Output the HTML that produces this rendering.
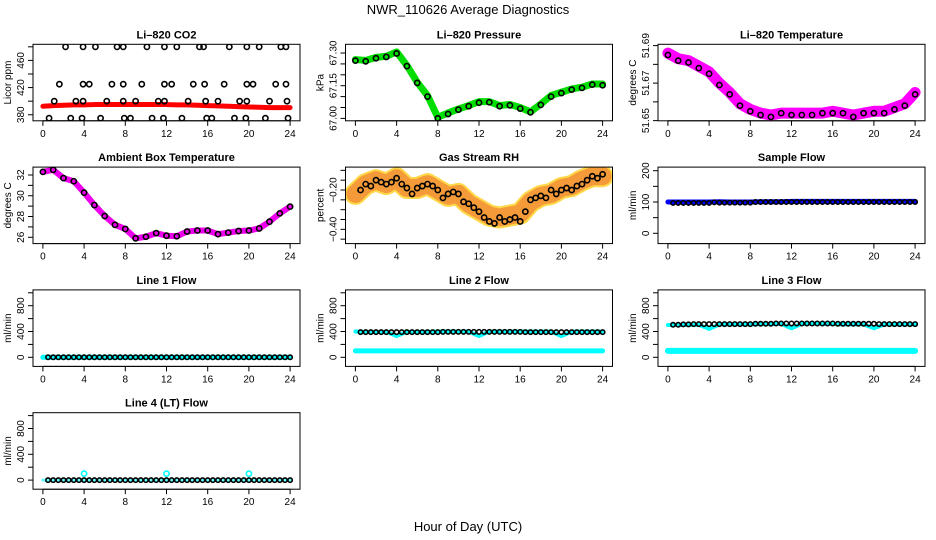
<!DOCTYPE html>
<html><head><meta charset="utf-8"><style>
body{margin:0;background:#fff}
svg{display:block;font-family:"Liberation Sans",sans-serif}
</style></head><body>
<svg id="c" width="936" height="540" viewBox="0 0 936 540" xmlns="http://www.w3.org/2000/svg">
<text x="468" y="14" text-anchor="middle" font-size="13">NWR_110626  Average Diagnostics</text>
<text x="468" y="531" text-anchor="middle" font-size="13">Hour of Day (UTC)</text>
</svg>
<script>
const hours = [0,1,2,3,4,5,6,7,8,9,10,11,12,13,14,15,16,17,18,19,20,21,22,23,24];
const halfHours = [0.5,1,1.5,2,2.5,3,3.5,4,4.5,5,5.5,6,6.5,7,7.5,8,8.5,9,9.5,10,10.5,11,11.5,12,12.5,13,13.5,14,14.5,15,15.5,16,16.5,17,17.5,18,18.5,19,19.5,20,20.5,21,21.5,22,22.5,23,23.5,24];
const xTicks = [0,4,8,12,16,20,24];
// CO2
const co2Red = [392.5,393.5,394,394.5,394.5,395,395,395,395,395,395,395,395,394.5,394.5,394,393.5,393,392.5,392,391.5,391,390.5,390.5,390.5];
const co2HiT = [2.2,3.9,5.1,7.2,7.8,10.1,11.8,13.0,15.2,15.6,18.1,19.8,21.0,23.1,23.6];
const co2MidT = [1.6,3.9,4.5,6.7,7.8,9.6,11.8,12.5,14.6,15.7,17.6,19.8,20.4,22.6,23.6];
const co2LowT = [1.1,3.2,3.9,6.2,7.8,9.0,11.2,11.8,14.1,15.8,17.0,19.1,19.8,22.0,23.7];
const co2BotT = [0.6,2.7,3.8,5.6,7.9,8.5,10.6,11.7,13.5,15.9,16.4,18.6,19.7,21.6,23.8];
const co2Levels = [480,425,400,375];
// Pressure
const presGreen = [67.27,67.266,67.28,67.285,67.305,67.243,67.166,67.105,67.005,67.025,67.043,67.059,67.077,67.077,67.059,67.064,67.05,67.03,67.066,67.105,67.12,67.135,67.143,67.158,67.158];
const presBlack = [67.265,67.262,67.276,67.282,67.298,67.24,67.163,67.1,67.0,67.02,67.04,67.056,67.072,67.074,67.056,67.06,67.045,67.028,67.062,67.1,67.116,67.132,67.14,67.155,67.152];
// Li-820 temperature
const tempMag = [51.686,51.683,51.682,51.679,51.676,51.670,51.665,51.659,51.656,51.654,51.653,51.654,51.654,51.654,51.654,51.654,51.655,51.654,51.653,51.654,51.655,51.655,51.657,51.659,51.665];
const tempBlack = [51.685,51.682,51.681,51.678,51.675,51.669,51.664,51.658,51.655,51.653,51.652,51.654,51.653,51.653,51.653,51.654,51.654,51.654,51.652,51.654,51.654,51.654,51.656,51.658,51.664];
// Ambient box temperature
const ambMag = [32.3,32.5,31.7,31.4,30.3,29.1,28.05,27.2,26.8,25.9,26.05,26.4,26.15,26.1,26.55,26.65,26.65,26.3,26.45,26.6,26.65,26.85,27.5,28.3,28.95];
const ambBlack = [32.3,32.5,31.7,31.4,30.3,29.1,28.05,27.2,26.8,25.9,26.05,26.4,26.15,26.1,26.55,26.65,26.65,26.3,26.45,26.6,26.65,26.85,27.5,28.3,28.95];
// RH
const rhCloud = [-0.22,-0.17,-0.15,-0.17,-0.14,-0.19,-0.19,-0.17,-0.2,-0.23,-0.22,-0.27,-0.30,-0.33,-0.34,-0.33,-0.32,-0.26,-0.23,-0.22,-0.19,-0.18,-0.15,-0.13,-0.13];
const rhBlack = [-0.2,-0.17,-0.18,-0.15,-0.16,-0.17,-0.16,-0.14,-0.17,-0.19,-0.22,-0.19,-0.18,-0.17,-0.18,-0.2,-0.24,-0.22,-0.21,-0.22,-0.26,-0.27,-0.29,-0.31,-0.34,-0.36,-0.37,-0.34,-0.36,-0.35,-0.34,-0.36,-0.31,-0.25,-0.24,-0.23,-0.24,-0.2,-0.22,-0.2,-0.19,-0.2,-0.18,-0.17,-0.15,-0.13,-0.14,-0.12];
// Sample flow
const sampBlue = [100,100,100,100,100,101,100,100,100,101,101,101,102,102,102,102,102,102,102,102,102,102,102,102,102];
const sampBlack = [97,97,97,97,97,97,97,97,99,98,98,98,98,98,98,98,100,100,100,100,100,100,100,100,100,100,100,100,100,100,100,100,100,100,100,100,100,100,100,100,100,100,100,100,100,100,100,100];
// Line flows
const line1Cyan = [0,0,0,0,0,0,0,0,0,0,0,0,0,0,0,0,0,0,0,0,0,0,0,0,0];
const line1Black = [0,0,0,0,0,0,0,0,0,0,0,0,0,0,0,0,0,0,0,0,0,0,0,0,0,0,0,0,0,0,0,0,0,0,0,0,0,0,0,0,0,0,0,0,0,0,0,0];
const line2CyanHi = [400,395,395,395,330,395,395,395,400,400,400,400,330,400,400,400,400,400,400,400,330,400,400,400,400];
const line2CyanLo = [100,100,100,100,100,100,100,100,100,100,100,100,100,100,100,100,100,100,100,100,100,100,100,100,100];
const line2Black = [390,390,390,390,390,390,390,390,390,390,390,390,390,390,390,390,395,395,395,395,395,395,395,395,395,395,395,395,395,395,395,395,390,390,390,390,390,390,390,390,390,390,390,390,390,390,390,390];
const line3CyanHi = [500,500,500,505,440,510,510,510,510,515,515,520,450,520,520,520,515,510,510,510,450,510,510,510,510];
const line3CyanLo = [100,100,100,100,100,100,100,100,100,100,100,100,100,100,100,100,100,100,100,100,100,100,100,100,100];
const line3Black = [505,505,510,510,515,515,515,515,515,515,515,515,515,515,515,515,520,520,520,520,525,525,525,525,525,525,525,525,525,525,525,525,520,520,520,520,520,520,520,520,515,515,515,515,515,515,515,515];
const line4Cyan = [0,0,0,0,100,0,0,0,0,0,0,0,100,0,0,0,0,0,0,0,100,0,0,0,0];
const line4Black = [0,0,0,0,0,0,0,0,0,0,0,0,0,0,0,0,0,0,0,0,0,0,0,0,0,0,0,0,0,0,0,0,0,0,0,0,0,0,0,0,0,0,0,0,0,0,0,0];

const flowTicks=[0,200,400,600,800,1000];
const flowLabels=[[0,"0"],[400,"400"],[800,"800"]];
const panels=[
 {n:"co2",t:"Li\u2013820 CO2",yl:"Licor ppm",col:0,row:0,y0:371.1,y1:483.7,ticks:[380,400,420,440,460,480],labels:[[380,"380"],[420,"420"],[460,"460"]]},
 {n:"pressure",t:"Li\u2013820 Pressure",yl:"kPa",col:1,row:0,y0:66.989,y1:67.34,ticks:[67.0,67.05,67.1,67.15,67.2,67.25,67.3],labels:[[67.0,"67.00"],[67.15,"67.15"],[67.3,"67.30"]]},
 {n:"li820-temp",t:"Li\u2013820 Temperature",yl:"degrees C",col:2,row:0,y0:51.6499,y1:51.6907,ticks:[51.65,51.66,51.67,51.68,51.69],labels:[[51.65,"51.65"],[51.67,"51.67"],[51.69,"51.69"]]},
 {n:"ambient-temp",t:"Ambient Box Temperature",yl:"degrees C",col:0,row:1,y0:25.39,y1:32.76,ticks:[26,27,28,29,30,31,32],labels:[[26,"26"],[28,"28"],[30,"30"],[32,"32"]]},
 {n:"rh",t:"Gas Stream RH",yl:"percent",col:1,row:1,y0:-0.4726,y1:-0.0835,ticks:[-0.45,-0.4,-0.35,-0.3,-0.25,-0.2,-0.15,-0.1],labels:[[-0.4,"\u22120.40"],[-0.2,"\u22120.20"]]},
 {n:"sample-flow",t:"Sample Flow",yl:"ml/min",col:2,row:1,y0:-32.9,y1:211.5,ticks:[0,50,100,150,200],labels:[[0,"0"],[100,"100"],[200,"200"]]},
 {n:"line1-flow",t:"Line 1 Flow",yl:"ml/min",col:0,row:2,y0:-141,y1:1045,ticks:flowTicks,labels:flowLabels},
 {n:"line2-flow",t:"Line 2 Flow",yl:"ml/min",col:1,row:2,y0:-141,y1:1045,ticks:flowTicks,labels:flowLabels},
 {n:"line3-flow",t:"Line 3 Flow",yl:"ml/min",col:2,row:2,y0:-141,y1:1045,ticks:flowTicks,labels:flowLabels},
 {n:"line4-flow",t:"Line 4 (LT) Flow",yl:"ml/min",col:0,row:3,y0:-141,y1:1045,ticks:flowTicks,labels:flowLabels}
];
const NS="http://www.w3.org/2000/svg";
const svg=document.getElementById('c');
function mk(tag,at,parent){const e=document.createElementNS(NS,tag);for(const k in at)e.setAttribute(k,at[k]);parent.appendChild(e);return e;}
const defs=mk('defs',{},svg);
const P={};
panels.forEach(p=>{
 const L=33+312.5*p.col, R=L+267, T=44.3+122.8*p.row, B=T+76.5;
 const cp=mk('clipPath',{id:'clip-'+p.n},defs);
 mk('rect',{x:L,y:T,width:R-L,height:B-T},cp);
 const g=mk('g',{},svg);
 
 
 const sx=h=>L+9.9+(h/24)*(R-L-19.8);
 const sy=v=>B-(v-p.y0)/(p.y1-p.y0)*(B-T);
 const tt=mk('text',{x:(L+R)/2,y:T-6,'text-anchor':'middle','font-size':'11','font-weight':'bold'},g);tt.textContent=p.t;
 
 
 const xa=mk('g',{},g);
 
 
 mk('line',{x1:sx(0),x2:sx(24),y1:B,y2:B,stroke:'#000'},xa);
 xTicks.forEach(h=>{mk('line',{x1:sx(h),x2:sx(h),y1:B,y2:B+5,stroke:'#000'},xa);
  const t=mk('text',{x:sx(h),y:B+16,'text-anchor':'middle','font-size':'10'},xa);t.textContent=h;});
 const ya=mk('g',{},g);
 
 
 mk('line',{x1:L,x2:L,y1:sy(p.ticks[0]),y2:sy(p.ticks[p.ticks.length-1]),stroke:'#000'},ya);
 p.ticks.forEach(v=>mk('line',{x1:L-5,x2:L,y1:sy(v),y2:sy(v),stroke:'#000'},ya));
 p.labels.forEach(([v,s])=>{const t=mk('text',{x:0,y:0,'text-anchor':'middle','font-size':'10',transform:`translate(${L-9},${sy(v)}) rotate(-90)`},ya);t.textContent=s;});
 const yt=mk('text',{x:0,y:0,'text-anchor':'middle','font-size':'10',transform:`translate(${L-22},${(T+B)/2}) rotate(-90)`},g);yt.textContent=p.yl;
 
 
 const dg=mk('g',{'clip-path':`url(#clip-${p.n})`},g);
 
 
 mk('rect',{x:L,y:T,width:R-L,height:B-T,fill:'none',stroke:'#000'},g);
 P[p.n]={g:dg,sx,sy};
});
function band(pn,xs,ys,color,w,name,extra){
 const {g,sx,sy}=P[pn];
 const e=mk('polyline',Object.assign({points:xs.map((h,i)=>sx(h)+','+sy(ys[i])).join(' '),fill:'none',stroke:color,'stroke-width':w,'stroke-linejoin':'round','stroke-linecap':'round'},extra||{}),g);
 
 
}
function pts(pn,xs,ys,color,name,r){
 const {g,sx,sy}=P[pn];
 const gg=mk('g',{},g);
 
 
 xs.forEach((h,i)=>mk('circle',{cx:sx(h),cy:sy(ys[i]),r:r||2.6,fill:'none',stroke:color,'stroke-width':1.6},gg));
}
band('co2',hours,co2Red,'#f00',5,'co2-red-series');
[co2HiT,co2MidT,co2LowT,co2BotT].forEach((ts,k)=>pts('co2',ts,ts.map(()=>co2Levels[k]),'#000','co2-points-'+co2Levels[k]));
band('pressure',hours,presGreen,'#0d0',7,'pressure-green-series');
pts('pressure',hours,presBlack,'#000','pressure-black-points');
band('li820-temp',hours,tempMag,'#f0f',11,'li820-temp-magenta-series');
pts('li820-temp',hours,tempBlack,'#000','li820-temp-black-points');
band('ambient-temp',hours,ambMag,'#e0e',6,'ambient-magenta-series');
pts('ambient-temp',hours,ambBlack,'#000','ambient-black-points');
band('rh',hours,rhCloud,'#ffd84a',22,'rh-yellow-cloud');
band('rh',hours,rhCloud,'#f08030',18,'rh-orange-cloud',{'stroke-dasharray':'2 2','opacity':'0.7'});
pts('rh',halfHours,rhBlack,'#000','rh-black-points');
band('sample-flow',hours,sampBlue,'#00f',5,'sample-blue-series');
pts('sample-flow',halfHours,sampBlack,'#000','sample-black-points',2.2);
band('line1-flow',hours,line1Cyan,'#0ff',5,'line1-cyan-series');
pts('line1-flow',halfHours,line1Black,'#000','line1-black-points',2.2);
band('line2-flow',hours,line2CyanLo,'#0ff',5,'line2-cyan-low');
band('line2-flow',hours,line2CyanHi,'#0ff',4,'line2-cyan-high');
pts('line2-flow',halfHours,line2Black,'#000','line2-black-points',2.2);
band('line3-flow',hours,line3CyanLo,'#0ff',6,'line3-cyan-low');
band('line3-flow',hours,line3CyanHi,'#0ff',4,'line3-cyan-high');
pts('line3-flow',halfHours,line3Black,'#000','line3-black-points',2.2);
band('line4-flow',hours,line4Cyan.map(()=>0),'#0ff',3,'line4-cyan-series',{opacity:'0.6'});
pts('line4-flow',halfHours,line4Black,'#000','line4-black-points',2.2);
pts('line4-flow',hours.filter((h,i)=>line4Cyan[i]>0),line4Cyan.filter(v=>v>0),'#0ff','line4-cyan-spikes');
</script>
</body></html>
